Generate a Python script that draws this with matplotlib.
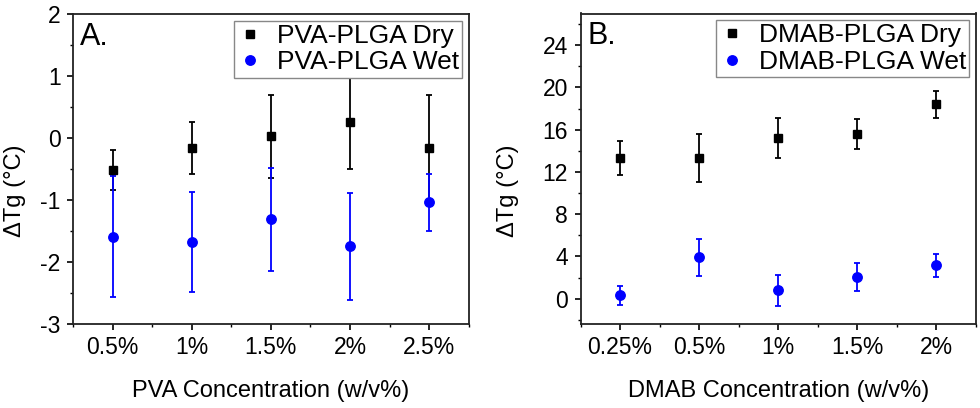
import matplotlib
matplotlib.use("Agg")
import matplotlib.pyplot as plt
from matplotlib.ticker import MultipleLocator, FixedLocator
from matplotlib.lines import Line2D
import numpy as np

plt.rcParams['font.family'] = ['Liberation Sans', 'DejaVu Sans']
plt.rcParams['axes.unicode_minus'] = False

# Panel A data
pva_labels = ["0.5%", "1%", "1.5%", "2%", "2.5%"]
pva_dry = [-0.52, -0.16, 0.03, 0.26, -0.16]
pva_dry_err = [0.32, 0.42, 0.67, 0.76, 0.85]
pva_wet = [-1.59, -1.68, -1.31, -1.75, -1.04]
pva_wet_err = [0.98, 0.81, 0.83, 0.87, 0.46]

# Panel B data
dmab_labels = ["0.25%", "0.5%", "1%", "1.5%", "2%"]
dmab_dry = [13.3, 13.3, 15.2, 15.6, 18.4]
dmab_dry_err = [1.6, 2.3, 1.9, 1.4, 1.3]
dmab_wet = [0.3, 3.9, 0.8, 2.05, 3.15]
dmab_wet_err = [0.88, 1.72, 1.47, 1.28, 1.12]

fig = plt.figure(figsize=(9.8, 4.08), dpi=100)
axA = fig.add_axes([73/980, 1-324/408, (468.7-73)/980, (324-14)/408])
axB = fig.add_axes([580.5/980, 1-324/408, (976-580.5)/980, (324-13.5)/408])

BLUE = (0, 0, 1)
FS_TICK = 16.5
FS_LAB = 17
FS_LEG = 19

def style(ax, labels, xlabel, legend_labels, dry, dry_err, wet, wet_err, panel):
    x = np.arange(len(labels))
    ax.errorbar(x, dry, yerr=dry_err, fmt='s', color='black', ms=6,
                elinewidth=1.3, capsize=2.5, capthick=1.3, zorder=3)
    ax.errorbar(x, wet, yerr=wet_err, fmt='o', color=BLUE, ms=6.8,
                elinewidth=1.3, capsize=2.5, capthick=1.3, zorder=3)
    ax.set_xlim(-0.5, len(labels) - 0.5)
    ax.set_xticks(x)
    ax.set_xticklabels(labels, fontsize=FS_TICK)
    ax.xaxis.set_minor_locator(FixedLocator(np.arange(-0.5, len(labels), 1.0)))
    ax.tick_params(axis='both', which='major', direction='out', length=4, width=1.2,
                   labelsize=FS_TICK, top=False, right=False, pad=5)
    ax.tick_params(axis='both', which='minor', direction='out', length=2.5, width=1.0,
                   top=False, right=False)
    for s in ax.spines.values():
        s.set_linewidth(1.3)
        s.set_color('#222222')
    ax.set_xlabel(xlabel, fontsize=FS_LAB, labelpad=15)
    ax.text(0.018, 0.975, panel, transform=ax.transAxes, fontsize=22, va='top', ha='left')
    handles = [Line2D([], [], marker='s', ls='none', color='black', ms=6),
               Line2D([], [], marker='o', ls='none', color=BLUE, ms=6.8)]
    leg = ax.legend(handles, legend_labels, loc='upper right', fontsize=FS_LEG,
                    frameon=True, fancybox=False, framealpha=1.0,
                    borderpad=0.12, handletextpad=0.5, handlelength=1.0,
                    labelspacing=0.1, borderaxespad=0.25)
    leg.get_frame().set_edgecolor('#888888')
    leg.get_frame().set_linewidth(1.0)
    leg.set_zorder(10)

style(axA, pva_labels, "PVA Concentration (w/v%)", ["PVA-PLGA Dry", "PVA-PLGA Wet"],
      pva_dry, pva_dry_err, pva_wet, pva_wet_err, "A.")
axA.set_ylim(-3, 2)
axA.yaxis.set_major_locator(MultipleLocator(1))
axA.yaxis.set_minor_locator(MultipleLocator(0.5))
axA.set_ylabel("ΔTg (°C)", fontsize=FS_LAB)
axA.yaxis.set_label_coords(-0.118, 0.43)

style(axB, dmab_labels, "DMAB Concentration (w/v%)", ["DMAB-PLGA Dry", "DMAB-PLGA Wet"],
      dmab_dry, dmab_dry_err, dmab_wet, dmab_wet_err, "B.")
axB.set_ylim(-2.4, 27)
axB.yaxis.set_major_locator(MultipleLocator(4))
axB.yaxis.set_minor_locator(MultipleLocator(2))
axB.set_ylabel("ΔTg (°C)", fontsize=FS_LAB)
axB.yaxis.set_label_coords(-0.155, 0.43)

fig.savefig("out.png", dpi=100)
